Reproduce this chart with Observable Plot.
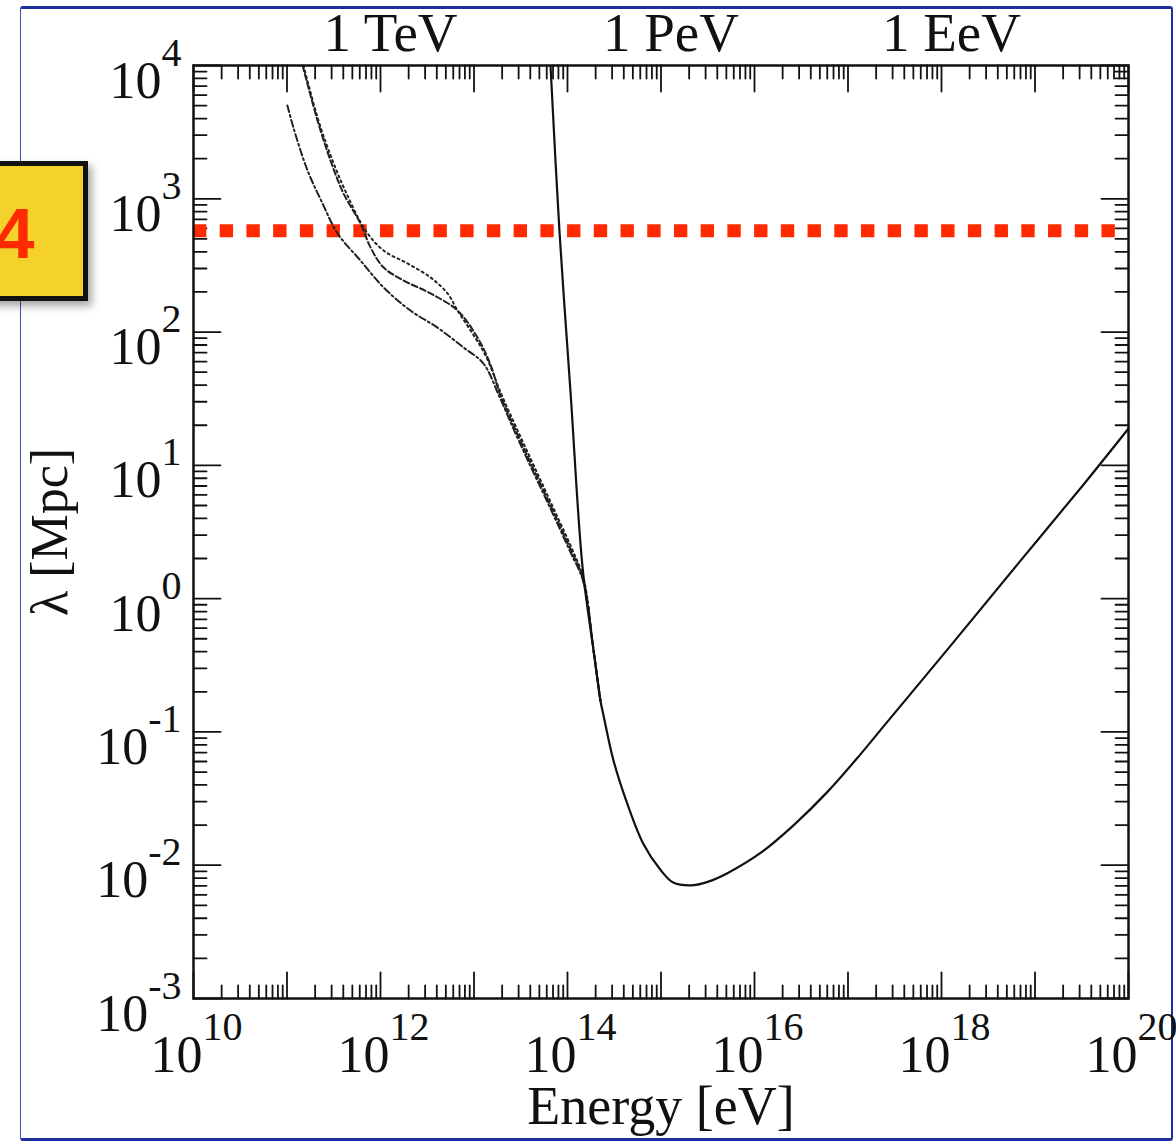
<!DOCTYPE html>
<html><head><meta charset="utf-8">
<script src="https://cdn.jsdelivr.net/npm/d3@7"></script>
<script src="https://cdn.jsdelivr.net/npm/@observablehq/plot@0.6"></script>
<style>
html,body{margin:0;padding:0;background:#fff;overflow:hidden}
#wrap{position:relative;width:1176px;height:1141px;background:#fff;overflow:hidden}
#border{position:absolute;left:20px;top:6px;width:1150px;height:1129px;border-top:3px solid #1d2f9c;border-right:2px solid #1d2f9c;border-bottom:3px solid #1d2f9c;border-left:1.5px solid #3a4fb5;border-radius:3px}
#chart{position:absolute;left:0;top:0}
#badge{position:absolute;left:-60px;top:161px;width:138px;height:130px;background:#f5d12c;border:5px solid #111;box-shadow:4px 5px 8px rgba(0,0,0,.35)}
#badgeText{position:absolute;left:-5px;top:198px;font:bold 71px 'Liberation Sans',sans-serif;color:#ff2a00;line-height:1}
</style></head>
<body>
<div id="wrap">
  <div id="border"></div>
  <div id="chart"></div>
  <div id="badge"></div>
  <div id="badgeText">4</div>
</div>
<script>
// ---- data: energy [eV] and mean free path lambda [Mpc] ----
const solidE = [6.58e13, 8.2e13, 1.08e14, 1.45e14, 1.90e14, 2.25e14, 2.45e14, 3.09e14, 4.37e14, 6.46e14, 1.0e15, 1.35e15, 2.07e15, 3.16e15, 5.13e15, 1.15e16, 2.63e16, 6.03e16, 1.35e17, 2.40e17, 1.26e18, 6.46e18, 3.31e19, 1.0e20];
const solidL = [1.0e4, 575, 34.6, 1.71, 0.408, 0.172, 0.129, 0.0617, 0.0288, 0.0145, 0.00912, 0.00741, 0.00705, 0.00750, 0.00871, 0.0123, 0.0200, 0.0355, 0.0676, 0.110, 0.446, 1.80, 7.19, 18.9];

const dashE = [1.47e11, 2.12e11, 2.92e11, 4.02e11, 6.11e11, 7.82e11, 1.08e12, 1.76e12, 3.43e12, 6.67e12, 1.09e13, 1.50e13, 1.92e13, 2.71e13, 3.83e13, 5.41e13, 7.62e13, 1.08e14, 1.48e14, 1.90e14, 2.25e14];
const dashL = [1.0e4, 3864, 1936, 1096, 653, 432, 305, 244, 195, 145, 91, 57, 33.4, 19.2, 11.3, 6.71, 4.0, 2.34, 1.37, 0.408, 0.172];

const dotE = [1.50e11, 2.17e11, 3.07e11, 4.33e11, 6.92e11, 1.08e12, 1.95e12, 3.43e12, 5.21e12, 6.67e12, 9.18e12, 1.33e13, 1.95e13, 2.76e13, 3.90e13, 5.50e13, 7.75e13, 1.10e14, 1.49e14, 1.90e14, 2.25e14];
const dotL = [1.0e4, 3864, 1936, 1096, 578, 409, 327, 257, 195, 145, 103, 66.7, 34.5, 20.0, 11.8, 7.0, 4.15, 2.42, 1.40, 0.408, 0.172];

const dashDotE = [1.01e11, 1.17e11, 1.66e11, 2.40e11, 3.47e11, 6.11e11, 1.08e12, 2.09e12, 4.07e12, 7.73e12, 1.26e13, 1.88e13, 2.66e13, 3.76e13, 5.32e13, 7.50e13, 1.06e14, 1.47e14, 1.90e14, 2.25e14];
const dashDotL = [5012, 3428, 1629, 923, 550, 344, 216, 145, 108, 76.6, 58.1, 32.5, 18.6, 10.9, 6.5, 3.88, 2.28, 1.35, 0.408, 0.172];

const thresholdL = [575];

// ---- ticks and labels ----
const xMajor = [1e10, 1e11, 1e12, 1e13, 1e14, 1e15, 1e16, 1e17, 1e18, 1e19, 1e20];
const xLabelVals = [1e10, 1e12, 1e14, 1e16, 1e18, 1e20];
const xLabelExp = ["10", "12", "14", "16", "18", "20"];
const yMajor = [1e-3, 1e-2, 1e-1, 1e0, 1e1, 1e2, 1e3, 1e4];
const yLabelExp = ["-3", "-2", "-1", "0", "1", "2", "3", "4"];
const topVals = [1e12, 1e15, 1e18];
const topNames = ["1 TeV", "1 PeV", "1 EeV"];
const minorMult = [2, 3, 4, 5, 6, 7, 8, 9];
const xMinor = xMajor.slice(0, -1).flatMap(d => minorMult.map(m => d * m));
const yMinor = yMajor.slice(0, -1).flatMap(d => minorMult.map(m => d * m));

const toRows = (E, L) => E.map((e, i) => ({E: e, L: L[i]}));
const solid = toRows(solidE, solidL);
const dashed = toRows(dashE, dashL);
const dotted = toRows(dotE, dotL);
const dashDot = toRows(dashDotE, dashDotL);

const tickShape = {draw(context, l) { context.moveTo(0, 0); context.lineTo(0, -l); }};
const ink = "#111";
const serif = "'Liberation Serif', 'Times New Roman', serif";

function ticks(data, channel, anchor, rotate, length) {
  return Plot.vector(data, {[channel]: d => d, frameAnchor: anchor, length, rotate, anchor: "start", shape: tickShape, stroke: ink, strokeWidth: 1.8});
}

const chart = Plot.plot({
  width: 1176, height: 1141,
  marginLeft: 193, marginRight: 48, marginTop: 65, marginBottom: 143,
  x: {type: "log", domain: [1e10, 1e20], axis: null},
  y: {type: "log", domain: [1e-3, 1e4], axis: null},
  style: {fontFamily: serif, background: "transparent", color: ink},
  marks: [
    ticks(xMajor, "x", "bottom", 0, 26),
    ticks(xMinor, "x", "bottom", 0, 13),
    ticks(xMajor, "x", "top", 180, 26),
    ticks(xMinor, "x", "top", 180, 13),
    ticks(yMajor, "y", "left", 90, 27),
    ticks(yMinor, "y", "left", 90, 13),
    ticks(yMajor, "y", "right", -90, 27),
    ticks(yMinor, "y", "right", -90, 13),
    Plot.ruleY(thresholdL, {stroke: "#ff2a00", strokeWidth: 13, strokeDasharray: "13.36,13.36"}),
    Plot.line(dotted, {x: "E", y: "L", stroke: "#222", strokeWidth: 2, strokeDasharray: "2,3.5", curve: "catmull-rom", clip: true}),
    Plot.line(dashed, {x: "E", y: "L", stroke: "#222", strokeWidth: 2, strokeDasharray: "6,3", curve: "catmull-rom", clip: true}),
    Plot.line(dashDot, {x: "E", y: "L", stroke: "#222", strokeWidth: 2, strokeDasharray: "7,3,2,3", curve: "catmull-rom", clip: true}),
    Plot.line(solid, {x: "E", y: "L", stroke: ink, strokeWidth: 2.2, curve: "catmull-rom", clip: true}),
    Plot.frame({stroke: ink, strokeWidth: 2.5}),
    Plot.text(yMajor, {y: d => d, frameAnchor: "left", text: (d, i) => "10^" + yLabelExp[i], textAnchor: "end", lineAnchor: "bottom", dx: -12, dy: 32, fontSize: 52, fontFamily: serif, fill: ink}),
    Plot.text(xLabelVals, {x: d => d, frameAnchor: "bottom", text: (d, i) => "10^" + xLabelExp[i], textAnchor: "middle", lineAnchor: "bottom", dx: 3, dy: 73, fontSize: 52, fontFamily: serif, fill: ink}),
    Plot.text(topVals, {x: d => d, frameAnchor: "top", text: (d, i) => topNames[i], textAnchor: "middle", lineAnchor: "bottom", dx: 10, dy: -15, fontSize: 55, fontFamily: serif, fill: ink}),
    Plot.text(["Energy [eV]"], {frameAnchor: "bottom", text: d => d, textAnchor: "middle", lineAnchor: "bottom", dy: 125, fontSize: 54, fontFamily: serif, fill: ink}),
    Plot.text(["λ [Mpc]"], {frameAnchor: "left", text: d => d, rotate: -90, textAnchor: "middle", lineAnchor: "bottom", dx: -127, fontSize: 52, fontFamily: serif, fill: ink})
  ]
});

// render "10^n" tick labels as 10 with a raised exponent
d3.select(chart).selectAll("text").each(function () {
  if (this.children.length || !this.textContent.includes("^")) return;
  const [base, exp] = this.textContent.split("^");
  const t = d3.select(this);
  t.text(null);
  t.append("tspan").text(base);
  t.append("tspan").attr("dy", -32).attr("font-size", 40).text(exp);
});

document.getElementById("chart").appendChild(chart);
</script>
</body></html>
